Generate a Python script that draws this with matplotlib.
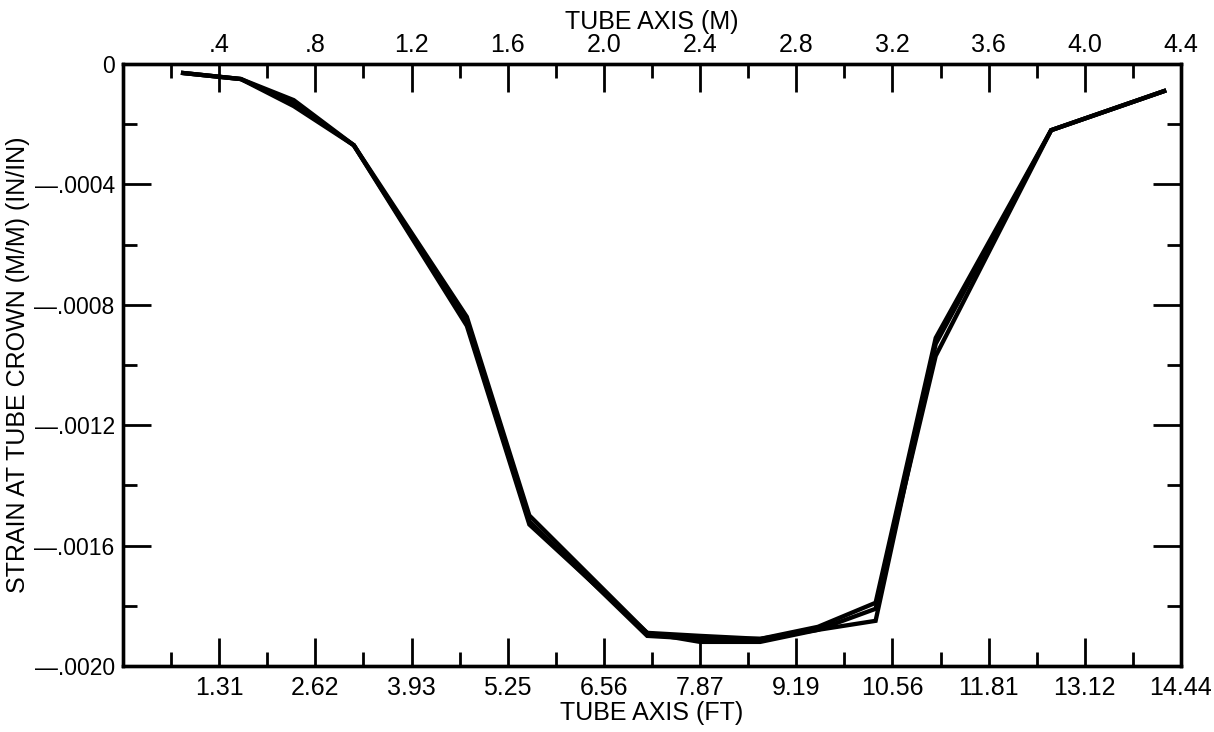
import matplotlib.pyplot as plt
import numpy as np

plt.rcParams['font.family'] = ['Liberation Sans', 'DejaVu Sans']

# gauge positions along the tube (m)
x_m = [0.25, 0.49, 0.71, 0.96, 1.43, 1.69, 2.18, 2.40, 2.65, 2.89, 3.13, 3.38, 3.86, 4.33]

# crown strain for the three runs
run1 = [-0.00003, -0.00005, -0.00012, -0.00027, -0.00084, -0.00150, -0.00189,
        -0.00190, -0.00191, -0.00187, -0.00179, -0.00091, -0.00022, -0.00009]
run2 = [-0.00003, -0.00005, -0.00014, -0.00027, -0.00087, -0.00153, -0.00189,
        -0.00192, -0.00192, -0.00188, -0.00185, -0.00093, -0.00022, -0.00009]
run3 = [-0.00003, -0.00005, -0.00013, -0.00027, -0.00086, -0.00152, -0.00190,
        -0.00191, -0.00191, -0.00188, -0.00181, -0.00097, -0.00022, -0.00009]

tick_m = [0.4, 0.8, 1.2, 1.6, 2.0, 2.4, 2.8, 3.2, 3.6, 4.0, 4.4]
labels_m = ['.4', '.8', '1.2', '1.6', '2.0', '2.4', '2.8', '3.2', '3.6', '4.0', '4.4']
labels_ft = ['1.31', '2.62', '3.93', '5.25', '6.56', '7.87', '9.19', '10.56',
             '11.81', '13.12', '14.44']
tick_y = [0, -0.0004, -0.0008, -0.0012, -0.0016, -0.0020]
labels_y = ['0', '\u2014.0004', '\u2014.0008', '\u2014.0012', '\u2014.0016', '\u2014.0020']

fs = 18

fig = plt.figure(figsize=(12.14, 7.32), dpi=100)
ax = fig.add_axes([0.1013, 0.0902, 0.8715, 0.8224])

for run in (run1, run2, run3):
    ax.plot(x_m, run, color='black', lw=3.1, solid_joinstyle='miter')

ax.set_xlim(0, 4.4)
ax.set_ylim(-0.0020, 0)

ax.set_xticks(tick_m)
ax.set_xticklabels(labels_ft)
ax.set_xticks(np.arange(0.2, 4.4, 0.4), minor=True)
ax.set_yticks(tick_y)
ax.set_yticklabels(labels_y)
ax.set_yticks(np.arange(-0.0018, 0, 0.0004), minor=True)

ax.tick_params(which='both', direction='in', top=True, right=True, width=2,
               labelsize=fs, pad=7)
ax.tick_params(axis='y', labelsize=16.5, pad=6)
ax.tick_params(which='major', length=20)
ax.tick_params(which='minor', length=10)

top = ax.twiny()
top.set_xlim(0, 4.4)
top.set_xticks(tick_m)
top.set_xticklabels(labels_m)
top.set_xticks(np.arange(0.2, 4.4, 0.4), minor=True)
top.tick_params(which='both', direction='in', width=2, labelsize=fs, pad=5)
top.tick_params(which='major', length=20)
top.tick_params(which='minor', length=10)

for a in (ax, top):
    for sp in a.spines.values():
        sp.set_linewidth(2.4)

ax.set_xlabel('TUBE AXIS (FT)', fontsize=fs, labelpad=1)
top.set_xlabel('TUBE AXIS (M)', fontsize=fs, labelpad=3)
ax.set_ylabel('STRAIN AT TUBE CROWN (M/M) (IN/IN)', fontsize=fs)
ax.yaxis.set_label_coords(-0.088, 0.5)

fig.savefig('out.png', dpi=100)
